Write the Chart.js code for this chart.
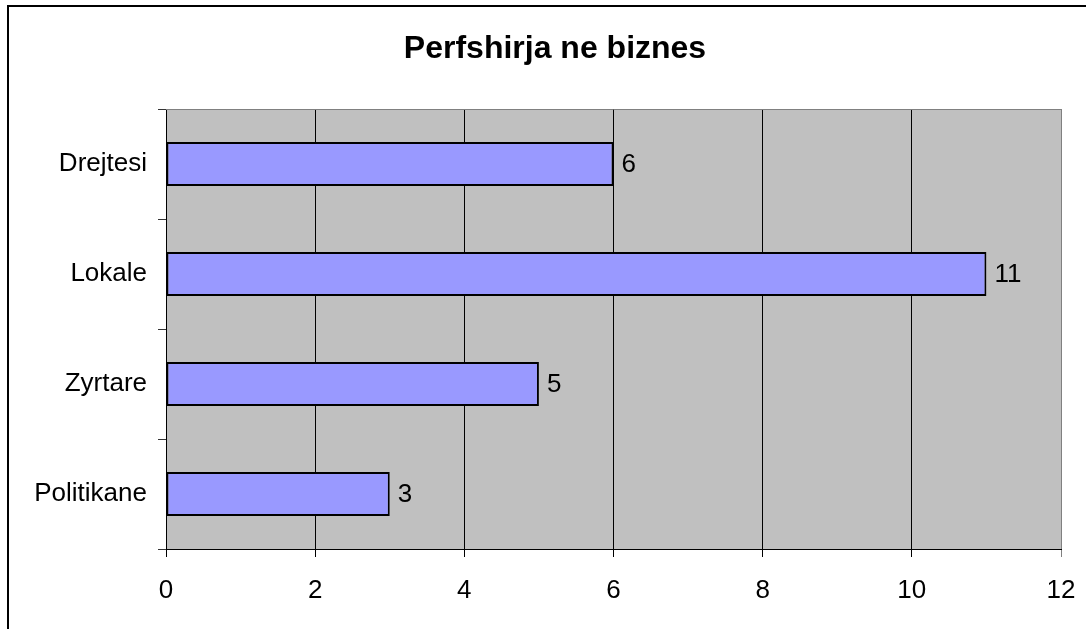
<!DOCTYPE html>
<html>
<head>
<meta charset="utf-8">
<script src="https://cdn.jsdelivr.net/npm/chart.js@4"></script>
<style>
  html, body { margin: 0; padding: 0; overflow: hidden; background: #fff; }
  #frame { position: absolute; left: 7px; top: 5px; width: 2000px; height: 2000px; border: 2px solid #000; }
  #chart { position: absolute; left: 0; top: 0; }
</style>
</head>
<body>
<div id="frame"></div>
<canvas id="chart" width="1086" height="629"></canvas>
<script>
// data
var categories = ['Drejtesi', 'Lokale', 'Zyrtare', 'Politikane'];
var values = [6, 11, 5, 3];
var xTicks = [0, 2, 4, 6, 8, 10, 12];
var chartTitle = 'Perfshirja ne biznes';

var FONT = "'Liberation Sans', Arial, sans-serif";

// gray plot area, gray top edge and the title
var plotBg = {
  id: 'plotBg',
  beforeDraw: function (chart) {
    var a = chart.chartArea, c = chart.ctx;
    c.save();
    c.fillStyle = '#C0C0C0';
    c.fillRect(a.left, a.top, a.right - a.left, a.bottom - a.top);
    c.restore();
  },
  afterDraw: function (chart) {
    var a = chart.chartArea, c = chart.ctx;
    c.save();
    c.strokeStyle = '#808080';
    c.lineWidth = 1;
    c.beginPath();
    c.moveTo(a.left, a.top + 0.5);
    c.lineTo(a.right, a.top + 0.5);
    c.stroke();
    c.font = 'bold 32px ' + FONT;
    c.fillStyle = '#000';
    c.textAlign = 'center';
    c.textBaseline = 'middle';
    c.fillText(chartTitle, 555, 49);
    c.restore();
  }
};

// value labels right of the bars
var barLabels = {
  id: 'barLabels',
  afterDatasetsDraw: function (chart) {
    var c = chart.ctx;
    var meta = chart.getDatasetMeta(0);
    c.save();
    c.font = '26px ' + FONT;
    c.fillStyle = '#000';
    c.textAlign = 'left';
    c.textBaseline = 'middle';
    meta.data.forEach(function (bar, i) {
      c.fillText(String(chart.data.datasets[0].data[i]), bar.x + 8, bar.y + 1);
    });
    c.restore();
  }
};

var ctx = document.getElementById('chart').getContext('2d');

var myChart = new Chart(ctx, {
  type: 'bar',
  data: {
    labels: categories,
    datasets: [{
      data: values,
      backgroundColor: '#9999FF',
      borderColor: '#000',
      borderWidth: 2,
      borderSkipped: false,
      barPercentage: 0.4,
      categoryPercentage: 1
    }]
  },
  options: {
    indexAxis: 'y',
    responsive: false,
    devicePixelRatio: 1,
    animation: false,
    layout: { padding: { left: 0, right: 25, top: 109, bottom: 0 } },
    plugins: {
      legend: { display: false },
      tooltip: { enabled: false },
      title: { display: false }
    },
    scales: {
      x: {
        min: 0,
        max: 12,
        afterBuildTicks: function (scale) {
          scale.ticks = xTicks.map(function (v) { return { value: v }; });
        },
        afterFit: function (scale) {
          scale.height = 80;
          scale.paddingLeft = 0;
          scale.paddingRight = 0;
        },
        grid: {
          color: function (c) { return c.tick && c.tick.value === 12 ? '#808080' : '#000'; },
          lineWidth: 1,
          drawTicks: true,
          tickLength: 8
        },
        border: { display: true, color: '#000', width: 1 },
        ticks: {
          color: '#000',
          padding: 18,
          maxRotation: 0,
          font: { family: FONT, size: 26 }
        }
      },
      y: {
        afterFit: function (scale) {
          scale.width = 166;
          scale.paddingTop = 0;
          scale.paddingBottom = 0;
        },
        grid: {
          drawOnChartArea: false,
          drawTicks: true,
          tickLength: 8,
          color: '#333'
        },
        border: { display: true, color: '#000', width: 1 },
        ticks: {
          color: '#000',
          padding: 11,
          font: { family: FONT, size: 26 }
        }
      }
    }
  },
  plugins: [plotBg, barLabels]
});
</script>
</body>
</html>
